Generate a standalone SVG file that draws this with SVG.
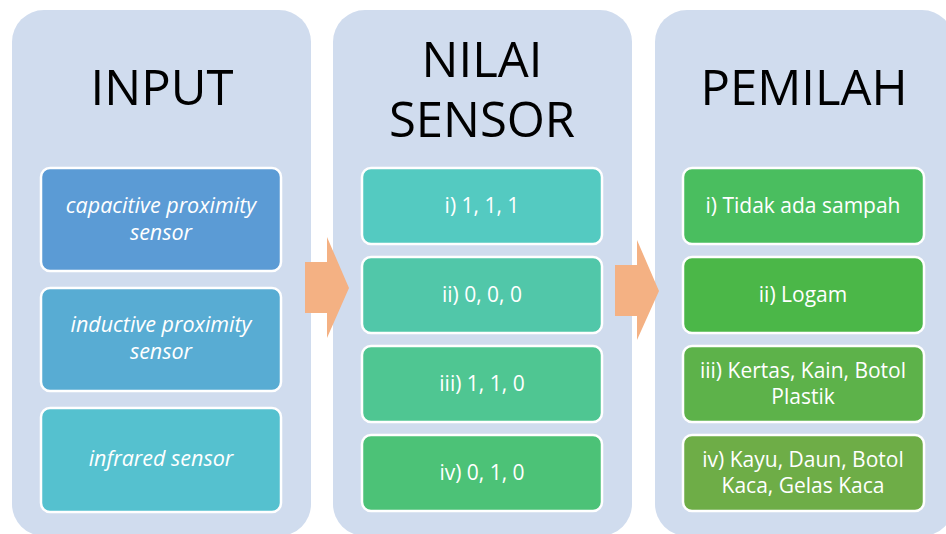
<svg xmlns="http://www.w3.org/2000/svg" width="946" height="534" viewBox="0 0 946 534">
<style>
.panel{fill:#D0DCEE}
.box{stroke:#FFFFFF;stroke-width:2.5}
.title{font-family:"Open Sans","Liberation Sans",sans-serif;font-size:49px;fill:#000;text-anchor:middle}
.lbl{font-family:"Open Sans","Liberation Sans",sans-serif;font-size:21px;fill:#FFFFFF;text-anchor:middle}
.it{font-style:italic;font-size:21.5px}
.arrow{fill:#F4B183}
</style>
<rect width="946" height="534" fill="#FFFFFF"/>
<g id="panel-input">
<rect class="panel" x="12" y="10" width="299" height="526" rx="32"/>
<text class="title" x="162" y="105">INPUT</text>
</g>
<g id="panel-nilai">
<rect class="panel" x="333" y="10" width="299" height="526" rx="32"/>
<text class="title" x="482" y="77">NILAI</text>
<text class="title" x="482" y="137">SENSOR</text>
</g>
<g id="panel-pemilah">
<rect class="panel" x="655" y="10" width="299" height="526" rx="32"/>
<text class="title" x="804" y="105">PEMILAH</text>
</g>
<g id="in1"><rect class="box" x="41" y="168" width="240" height="103" rx="9" fill="#5B9BD5"/><text class="lbl it" x="161" y="213">capacitive proximity</text><text class="lbl it" x="161" y="240">sensor</text></g>
<g id="in2"><rect class="box" x="41" y="288" width="240" height="103" rx="9" fill="#58ACD3"/><text class="lbl it" x="161" y="332">inductive proximity</text><text class="lbl it" x="161" y="359">sensor</text></g>
<g id="in3"><rect class="box" x="41" y="408" width="240" height="104" rx="9" fill="#55C1CF"/><text class="lbl it" x="161" y="466">infrared sensor</text></g>
<g id="ns1"><rect class="box" x="362" y="168" width="240" height="76" rx="9" fill="#54CAC1"/><text class="lbl" x="482" y="213">i) 1, 1, 1</text></g>
<g id="ns2"><rect class="box" x="362" y="257" width="240" height="76" rx="9" fill="#51C7A9"/><text class="lbl" x="482" y="302">ii) 0, 0, 0</text></g>
<g id="ns3"><rect class="box" x="362" y="346" width="240" height="76" rx="9" fill="#4FC692"/><text class="lbl" x="482" y="391">iii) 1, 1, 0</text></g>
<g id="ns4"><rect class="box" x="362" y="435" width="240" height="76" rx="9" fill="#4CC277"/><text class="lbl" x="482" y="480">iv) 0, 1, 0</text></g>
<g id="pm1"><rect class="box" x="683" y="168" width="241" height="76" rx="9" fill="#4ABE5F"/><text class="lbl" x="803" y="213">i) Tidak ada sampah</text></g>
<g id="pm2"><rect class="box" x="683" y="257" width="241" height="76" rx="9" fill="#4BB748"/><text class="lbl" x="803" y="302">ii) Logam</text></g>
<g id="pm3"><rect class="box" x="683" y="346" width="241" height="76" rx="9" fill="#5DB24A"/><text class="lbl" x="803" y="378">iii) Kertas, Kain, Botol</text><text class="lbl" x="803" y="404">Plastik</text></g>
<g id="pm4"><rect class="box" x="683" y="435" width="241" height="76" rx="9" fill="#6EAD47"/><text class="lbl" x="803" y="467">iv) Kayu, Daun, Botol</text><text class="lbl" x="803" y="493">Kaca, Gelas Kaca</text></g>
<g id="connectors">
<polygon class="arrow" points="305,262 327,262 327,237 349,288 327,338 327,313 305,313"/>
<polygon class="arrow" points="615,265 637,265 637,240 659,291 637,340 637,316 615,316"/>
</g>
</svg>
